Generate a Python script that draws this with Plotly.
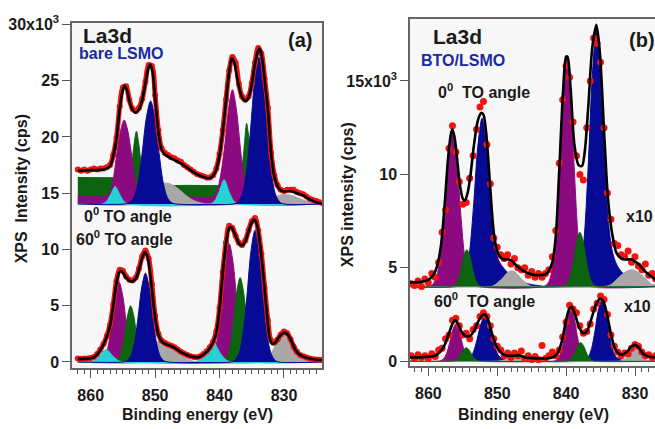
import numpy as np
import plotly.graph_objects as go

# ---------------- measured energies (eV) ----------------
E_A = np.round(np.arange(862.0, 823.99, -0.5), 2)   # panel (a) sampling
E_B = np.round(np.arange(862.5, 826.49, -0.5), 2)   # panel (b) sampling

# ---------------- measured intensities (x10^3 cps) ----------------
A0_DATA = [17.1, 17.0, 17.1, 17.0, 17.1, 17.2, 17.1, 17.2, 17.2, 17.3,
           17.5, 18.4, 19.9, 22.7, 24.4, 24.5, 23.3, 22.5, 22.3, 22.6,
           23.4, 24.9, 26.4, 26.3, 23.7, 20.6, 19.0, 18.6, 18.4, 18.2,
           18.1, 17.9, 17.8, 17.5, 17.3, 17.1, 16.9, 16.7, 16.6, 16.5,
           16.4, 16.4, 16.6, 17.2, 18.5, 20.6, 23.3, 25.9, 27.1, 26.6,
           24.7, 23.6, 23.3, 23.6, 24.8, 26.6, 27.9, 27.4, 25.2, 22.6,
           18.6, 16.6, 15.7, 15.3, 15.2, 15.3, 15.3, 15.3, 15.1, 15.0,
           14.9, 14.7, 14.5, 14.4, 14.3, 14.2, 14.1]
A60_DATA = [0.30, 0.28, 0.30, 0.32, 0.35, 0.45, 0.70, 1.10, 1.60, 2.30,
            3.30, 5.10, 7.20, 8.20, 8.10, 7.60, 7.30, 7.25, 7.50, 8.30,
            9.40, 9.90, 9.20, 6.90, 4.10, 2.50, 1.90, 1.70, 1.55, 1.45,
            1.30, 1.10, 0.90, 0.75, 0.62, 0.50, 0.45, 0.42, 0.50, 0.70,
            0.95, 1.30, 1.80, 2.70, 4.80, 8.00, 10.60, 12.10, 11.90, 11.20,
            10.60, 10.40, 10.80, 11.70, 12.50, 12.80, 11.70, 9.60, 6.60, 3.70,
            1.90, 1.70, 2.00, 2.45, 2.70, 2.55, 2.05, 1.35, 0.90, 0.62,
            0.50, 0.40, 0.32, 0.25, 0.22, 0.20, 0.20]
B0_DATA = [4.15, 4.05, 4.3, 4.0, 4.4, 4.2, 4.7, 4.5, 5.3, 6.9,
           8.1, 11.4, 12.6, 11.2, 9.6, 8.4, 8.5, 9.8, 11.0, 12.4,
           13.6, 13.9, 11.6, 9.5, 6.6, 6.1, 5.7, 5.5, 5.7, 5.2,
           5.5, 5.0, 4.9, 5.0, 4.6, 4.8, 4.5, 4.7, 4.5, 4.7,
           4.9, 5.6, 7.0, 10.6, 14.0, 15.8, 15.2, 12.8, 11.0, 10.0,
           9.7, 12.5, 15.0, 17.3, 17.0, 16.0, 12.5, 9.0, 7.6, 6.3,
           6.2, 5.7, 5.6, 5.9, 5.3, 5.6, 5.1, 4.9, 5.2, 4.6,
           4.7, 4.4, 4.5]
B60_DATA = [0.3, 0.15, 0.35, 0.2, 0.3, 0.15, 0.4, 0.25, 0.6, 0.7,
            1.2, 1.4, 2.2, 2.3, 1.9, 1.4, 1.5, 1.2, 1.7, 1.9,
            2.4, 2.6, 2.4, 1.9, 1.2, 0.8, 0.6, 0.3, 0.45, 0.2,
            0.45, 0.3, 0.55, 0.15, 0.3, 0.1, 0.25, 0.1, 0.85, 0.15,
            0.3, 0.5, 0.3, 0.6, 1.3, 2.1, 3.0, 2.8, 2.6, 1.9,
            1.5, 1.6, 2.0, 2.8, 3.1, 3.5, 3.3, 2.5, 1.4, 0.8,
            0.5, 0.3, 0.45, 0.4, 0.7, 0.9, 0.8, 0.5, 0.3, 0.35,
            0.2, 0.3, 0.25]

# ---------------- fit envelopes (E, x10^3 cps) ----------------
A0_FIT = [(862, 17.0), (860, 17.05), (858, 17.1), (857, 17.4), (856.5, 18.3), (856, 19.8), (855.5, 22.5),
          (855, 24.2), (854.75, 24.55), (854.4, 24.2), (854, 23.2), (853.5, 22.4), (853, 22.15),
          (852.5, 22.45), (852, 23.3), (851.5, 24.8), (851, 26.2), (850.75, 26.45), (850.4, 25.8),
          (850, 23.5), (849.5, 20.5), (849, 18.9), (848.5, 18.45), (848, 18.25), (847, 17.95),
          (846, 17.65), (845, 17.25), (844, 16.85), (843, 16.55), (842, 16.35), (841.5, 16.35),
          (841, 16.55), (840.5, 17.1), (840, 18.4), (839.5, 20.5), (839, 23.2), (838.5, 25.8),
          (838.1, 27.0), (837.7, 26.6), (837.3, 25.3), (837, 24.5), (836.5, 23.5), (836, 23.2),
          (835.5, 23.5), (835, 24.7), (834.5, 26.5), (834, 27.7), (833.8, 27.85), (833.5, 27.4),
          (833, 25.1), (832.5, 22.4), (832, 18.5), (831.5, 16.5), (831, 15.6), (830.5, 15.25),
          (830, 15.15), (829, 15.2), (828, 15.0), (827, 14.8), (826, 14.45), (825, 14.2), (824, 14.05)]
A60_FIT = [(862, 0.28), (860.5, 0.3), (859.5, 0.42), (859, 0.65), (858.5, 1.05), (858, 1.55), (857.5, 2.25),
           (857, 3.2), (856.5, 5.0), (856, 7.0), (855.6, 7.95), (855.3, 8.1), (855, 7.95), (854.5, 7.5),
           (854, 7.2), (853.6, 7.15), (853, 7.4), (852.5, 8.2), (852, 9.25), (851.6, 9.75), (851.2, 9.4),
           (850.8, 8.0), (850.3, 5.4), (850, 4.0), (849.5, 2.45), (849, 1.85), (848.5, 1.62), (847.7, 1.45),
           (847, 1.25), (846, 0.88), (845, 0.6), (844, 0.43), (843.5, 0.4), (843, 0.48), (842, 0.9),
           (841.5, 1.25), (841, 1.75), (840.5, 2.6), (840, 4.7), (839.5, 7.9), (839, 10.5), (838.5, 11.9),
           (838.2, 12.0), (837.8, 11.6), (837.3, 10.9), (836.8, 10.4), (836.4, 10.4), (836, 10.7),
           (835.5, 11.6), (835, 12.4), (834.6, 12.65), (834.2, 12.2), (833.7, 10.4), (833.2, 7.7),
           (832.7, 4.6), (832.2, 2.1), (831.8, 1.6), (831.3, 1.75), (830.8, 2.2), (830.2, 2.55),
           (829.8, 2.6), (829.3, 2.35), (828.8, 1.8), (828.3, 1.15), (827.7, 0.7), (827, 0.48),
           (826, 0.3), (825, 0.2), (824, 0.18)]
B0_FIT = [(862.7, 4.22), (861, 4.25), (860, 4.35), (859.3, 4.6), (858.8, 5.0), (858.2, 6.1), (857.65, 8.3),
          (857.1, 11.0), (856.7, 12.2), (856.5, 12.4), (856.2, 12.0), (855.9, 11.1), (855.4, 9.4),
          (855.0, 8.7), (854.7, 8.6), (854.3, 9.0), (853.9, 9.9), (853.4, 11.5), (852.8, 12.9),
          (852.3, 13.3), (852.0, 13.2), (851.6, 12.2), (851.0, 9.2), (850.5, 6.9), (850.0, 5.9),
          (849.5, 5.55), (849, 5.45), (848.3, 5.45), (847.8, 5.35), (847, 5.05), (846, 4.8), (845, 4.65),
          (844, 4.6), (843, 4.65), (842.5, 4.85), (842, 5.3), (841.5, 6.7), (841.0, 10.2), (840.45, 14.4),
          (840.0, 16.3), (839.8, 16.3), (839.35, 14.6), (838.8, 11.6), (838.2, 10.5), (837.7, 10.45),
          (837.3, 11.2), (836.75, 13.8), (836.2, 16.8), (835.6, 18.0), (835.1, 16.5), (834.45, 12.0),
          (833.9, 8.6), (833.3, 6.8), (832.7, 5.8), (832.0, 5.5), (831.2, 5.45), (830.5, 5.45),
          (829.5, 5.2), (828.5, 4.8), (827.5, 4.5), (826.5, 4.3)]
B60_FIT = [(862.7, 0.2), (861, 0.22), (860, 0.25), (859, 0.3), (858.3, 0.5), (857.6, 0.9), (857, 1.5),
           (856.5, 2.0), (856.1, 2.2), (855.7, 2.0), (855.2, 1.6), (854.6, 1.35), (854.0, 1.35),
           (853.4, 1.6), (852.8, 2.1), (852.2, 2.45), (851.8, 2.5), (851.3, 2.2), (850.7, 1.4),
           (850.1, 0.8), (849.4, 0.45), (848.6, 0.3), (847.5, 0.3), (846.8, 0.32), (846, 0.2),
           (845, 0.17), (844, 0.15), (843, 0.15), (842, 0.2), (841.2, 0.45), (840.6, 1.1), (840.0, 2.2),
           (839.5, 2.85), (839.2, 2.9), (838.7, 2.5), (838.1, 1.8), (837.5, 1.5), (837.0, 1.6),
           (836.4, 2.2), (835.7, 3.0), (835.1, 3.35), (834.6, 3.2), (834.0, 2.4), (833.4, 1.3),
           (832.8, 0.6), (832.0, 0.35), (831.2, 0.5), (830.5, 0.8), (830.0, 0.88), (829.5, 0.75),
           (828.8, 0.4), (828, 0.25), (827, 0.2), (826, 0.2)]

# ---------------- fitted components (E, x10^3 cps) ----------------
A0_BASE = 14.05
A0_GREEN = [(862, 16.4), (855, 16.4), (854.2, 16.45), (853.7, 17.3), (853.3, 19.2), (852.9, 20.5), (852.5, 19.2),
            (852.1, 17.3), (851.6, 16.1), (851.0, 15.75), (845, 15.7), (838, 15.7), (837.0, 15.8), (836.5, 17.3),
            (836.1, 19.6), (835.8, 21.2), (835.4, 19.6), (835.0, 17.3), (834.5, 15.3), (834.0, 14.3),
            (833.3, 14.05), (824, 14.05)]
A0_PURPLE = [(862, 14.77), (857.5, 14.78), (856.9, 15.2), (856.4, 16.6), (855.9, 18.7), (855.3, 20.7), (854.8, 21.5),
             (854.3, 20.7), (853.7, 18.6), (853.2, 16.5), (852.7, 15.2), (852.1, 14.75), (846, 14.7), (841, 14.72),
             (840.4, 15.2), (839.8, 16.7), (839.2, 19.2), (838.6, 22.5), (838.0, 24.2), (837.4, 22.5),
             (836.8, 19.2), (836.2, 16.3), (835.6, 14.9), (835.0, 14.3), (834.4, 14.05), (824, 14.05)]
A0_GRAY = [(862, 14.05), (852, 14.1), (851, 14.6), (850, 15.3), (849, 15.8), (848.2, 15.9), (847.2, 15.7),
           (846, 15.2), (845, 14.7), (844, 14.35), (843, 14.15), (842, 14.05), (834, 14.05), (832.5, 14.3),
           (831.5, 14.65), (830.5, 14.85), (829.7, 14.88), (828.5, 14.75), (827.5, 14.5), (826.5, 14.3),
           (825.5, 14.15), (824, 14.1)]
A0_CYAN = [(862, 14.05), (858.2, 14.05), (857.5, 14.3), (856.9, 14.9), (856.2, 15.6), (855.5, 14.9), (854.9, 14.3),
           (854.2, 14.05), (841.5, 14.05), (840.8, 14.3), (840.1, 15.1), (839.3, 16.2), (838.5, 15.1),
           (837.8, 14.3), (837.1, 14.05), (824, 14.05)]
A0_BLUE = [(862, 14.05), (854.6, 14.05), (853.95, 14.17), (853.3, 14.62), (852.65, 15.97), (852.0, 18.63),
           (851.35, 21.74), (850.7, 23.2), (850.05, 21.74), (849.4, 18.63), (848.75, 15.97), (848.1, 14.62),
           (847.45, 14.17), (846.8, 14.05), (837.8, 14.05), (837.15, 14.22), (836.5, 14.87), (835.85, 16.79),
           (835.2, 20.58), (834.55, 25.01), (833.9, 27.1), (833.25, 25.01), (832.6, 20.58), (831.95, 16.79),
           (831.3, 14.87), (830.65, 14.22), (830.0, 14.05), (824, 14.05)]

A60_BASE = 0.0
A60_GREEN = [(862, 0), (856.5, 0), (856.05, 0.065), (855.6, 0.31), (855.15, 1.05), (854.7, 2.5), (854.25, 4.2),
             (853.8, 5.0), (853.35, 4.2), (852.9, 2.5), (852.45, 1.05), (852.0, 0.31), (851.55, 0.065), (851.0, 0),
             (839.8, 0), (839.3, 0.1), (838.8, 0.47), (838.3, 1.58), (837.8, 3.75), (837.3, 6.3), (836.8, 7.5),
             (836.3, 6.3), (835.8, 3.75), (835.3, 1.58), (834.8, 0.47), (834.3, 0.1), (833.8, 0), (824, 0)]
A60_PURPLE = [(862, 0), (858.9, 0), (858.35, 0.09), (857.8, 0.44), (857.25, 1.49), (856.7, 3.55), (856.15, 5.96),
              (855.6, 7.1), (855.05, 5.96), (854.5, 3.55), (853.95, 1.49), (853.4, 0.44), (852.85, 0.09),
              (852.3, 0), (842.1, 0), (841.5, 0.14), (840.9, 0.66), (840.3, 2.2), (839.7, 5.25), (839.1, 8.82),
              (838.5, 10.5), (837.9, 8.82), (837.3, 5.25), (836.7, 2.2), (836.1, 0.66), (835.5, 0.14),
              (834.9, 0), (824, 0)]
A60_GRAY = [(862, 0), (852, 0), (851, 0.4), (850, 1.5), (849.3, 1.9), (848.5, 1.8), (847.5, 1.4), (846.5, 0.9),
            (845.5, 0.45), (844.5, 0.15), (843.5, 0), (833.5, 0), (832.5, 0.3), (831.5, 1.3), (830.7, 2.2),
            (829.9, 2.5), (829, 2.2), (828, 1.3), (827, 0.5), (826, 0.15), (825, 0.03), (824, 0)]
A60_CYAN = [(862, 0), (860.2, 0), (859.4, 0.15), (858.6, 0.55), (857.6, 1.12), (856.6, 0.55), (855.8, 0.15),
            (855, 0), (844, 0), (843.3, 0.12), (842.3, 0.6), (841.0, 1.7), (839.8, 0.7), (838.9, 0.15),
            (838, 0), (824, 0)]
A60_BLUE = [(862, 0), (855, 0), (854.375, 0.10), (853.8, 0.49), (853.225, 1.66), (852.65, 3.95), (852.075, 6.64),
            (851.5, 7.9), (850.925, 6.64), (850.35, 3.95), (849.775, 1.66), (849.2, 0.49), (848.625, 0.10),
            (848.0, 0), (838.2, 0), (837.625, 0.15), (837.0, 0.73), (836.375, 2.46), (835.75, 5.85),
            (835.125, 9.83), (834.5, 11.7), (833.875, 9.83), (833.25, 5.85), (832.625, 2.46), (832.0, 0.73),
            (831.375, 0.15), (830.8, 0), (824, 0)]

B0_BASE = 4.0
B0_PURPLE = [(862.7, 4.0), (860, 4.0), (859.375, 4.11), (858.8, 4.52), (858.225, 5.74), (857.65, 8.15),
             (857.075, 10.97), (856.5, 12.3), (855.925, 10.97), (855.35, 8.15), (854.775, 5.74), (854.2, 4.52),
             (853.625, 4.11), (853.0, 4.0), (843.3, 4.0), (842.65, 4.16), (842.1, 4.77), (841.55, 6.58),
             (841.0, 10.15), (840.45, 14.33), (839.9, 16.3), (839.35, 14.33), (838.8, 10.15), (838.25, 6.58),
             (837.7, 4.77), (837.15, 4.16), (836.6, 4.0), (826, 4.0)]
B0_BLUE = [(862.7, 4.0), (855.8, 4.0), (855.2, 4.12), (854.6, 4.56), (854.0, 5.89), (853.4, 8.5), (852.8, 11.56),
           (852.2, 13.0), (851.6, 11.56), (851.0, 8.6), (850.4, 6.3), (849.8, 5.4), (849.0, 4.95), (848.0, 4.6),
           (847.0, 4.35), (846.0, 4.2), (845.0, 4.1), (844.0, 4.05), (843.0, 4.0), (839.0, 4.0), (838.475, 4.18),
           (837.9, 4.85), (837.325, 6.86), (836.75, 10.8), (836.175, 15.42), (835.6, 17.7), (835.025, 15.42),
           (834.45, 10.9), (833.9, 7.6), (833.3, 5.9), (832.7, 5.2), (832.0, 4.8), (831.0, 4.5), (830.0, 4.3),
           (829, 4.2), (828, 4.1), (826, 4.05)]
B0_GRAY = [(862.7, 4.0), (851, 4.0), (850.5, 4.05), (849.8, 4.25), (849.2, 4.45), (848.5, 4.75), (847.9, 4.85),
           (847.3, 4.75), (846.6, 4.45), (846.0, 4.25), (845.3, 4.05), (844.8, 4.0), (834.5, 4.0), (833.5, 4.1),
           (832.6, 4.4), (831.7, 4.7), (830.5, 4.9), (829.3, 4.7), (828.4, 4.4), (827.5, 4.1), (826.5, 4.0)]
B0_GREEN = [(862.7, 4.0), (856.6, 4.0), (856.0, 4.12), (855.6, 4.41), (855.2, 4.985), (854.8, 5.65), (854.4, 5.97),
            (854.0, 5.65), (853.6, 4.985), (853.2, 4.41), (852.8, 4.12), (852.2, 4.0), (840.8, 4.0), (840.25, 4.04),
            (839.8, 4.18), (839.35, 4.61), (838.9, 5.45), (838.45, 6.44), (838.0, 6.9), (837.55, 6.44),
            (837.1, 5.45), (836.65, 4.61), (836.2, 4.18), (835.75, 4.04), (835.2, 4.0), (826, 4.0)]

B60_BASE = 0.0
B60_PURPLE = [(862.7, 0), (858.8, 0), (858.25, 0.026), (857.8, 0.125), (857.35, 0.42), (856.9, 1.0), (856.45, 1.68),
              (856.0, 2.0), (855.55, 1.68), (855.1, 1.0), (854.65, 0.42), (854.2, 0.125), (853.75, 0.026),
              (853.2, 0), (842.1, 0), (841.55, 0.036), (841.1, 0.175), (840.65, 0.59), (840.2, 1.4),
              (839.75, 2.35), (839.3, 2.8), (838.85, 2.35), (838.4, 1.4), (837.95, 0.59), (837.5, 0.175),
              (837.05, 0.036), (836.5, 0), (826, 0)]
B60_BLUE = [(862.7, 0), (855.2, 0), (854.55, 0.03), (854.0, 0.15), (853.45, 0.5), (852.9, 1.2), (852.35, 2.02),
            (851.8, 2.4), (851.25, 2.02), (850.7, 1.2), (850.15, 0.55), (849.6, 0.22), (848.8, 0.1), (847.5, 0.05),
            (846, 0.0), (837.9, 0), (837.3, 0.043), (836.8, 0.21), (836.3, 0.69), (835.8, 1.65), (835.3, 2.77),
            (834.8, 3.3), (834.3, 2.77), (833.8, 1.65), (833.3, 0.69), (832.8, 0.25), (832.1, 0.08),
            (831.3, 0.02), (830.5, 0), (826, 0)]
B60_GRAY = [(862.7, 0), (850.5, 0), (849.6, 0.02), (848.9, 0.08), (848.3, 0.17), (847.6, 0.26), (847.0, 0.3),
            (846.4, 0.26), (845.7, 0.17), (845.1, 0.08), (844.4, 0.02), (843.5, 0), (832.8, 0), (832.25, 0.01),
            (831.8, 0.05), (831.35, 0.17), (830.9, 0.4), (830.45, 0.67), (830.0, 0.8), (829.55, 0.67),
            (829.1, 0.4), (828.65, 0.17), (828.2, 0.05), (827.75, 0.01), (827.2, 0), (826, 0)]
B60_GREEN = [(862.7, 0), (857, 0), (856.5, 0.01), (856.1, 0.046), (855.7, 0.153), (855.3, 0.365), (854.9, 0.61),
             (854.5, 0.73), (854.1, 0.61), (853.7, 0.365), (853.3, 0.153), (852.9, 0.046), (852.5, 0.01),
             (852.0, 0), (840.4, 0), (839.9, 0.013), (839.5, 0.0625), (839.1, 0.21), (838.7, 0.5), (838.3, 0.84),
             (837.9, 1.0), (837.5, 0.84), (837.1, 0.5), (836.7, 0.21), (836.3, 0.0625), (835.9, 0.013),
             (835.4, 0), (826, 0)]

# ---------------- tick labels ----------------
X_TICKS = [860, 850, 840, 830]
YA_TICKS = [0, 5, 10, 15, 20, 25, 30]
YA_TEXT = ["0", "5", "10", "15", "20", "25", "30x10<sup>3</sup>"]
YB_TICKS = [0, 5, 10, 15]
YB_TEXT = ["0", "5", "10", "15x10<sup>3</sup>"]

# ---------------- styling ----------------
W, H = 655, 429
PURPLE = "#8c0a80"
GREEN = "#0c640f"
BLUE = "#070a94"
CYAN = "#25d2d6"
GRAY = "#a8a8a8"
RED = "#f2140f"
NAVY = "#1a2a9e"
FONT = "Liberation Sans"

fig = go.Figure()


def add_component(pts, base, color, xa, ya):
    xs = [p[0] for p in pts]
    ys = [p[1] for p in pts]
    fig.add_trace(go.Scatter(x=[xs[0], xs[-1]], y=[base, base], mode="lines",
                             line=dict(width=0, color=color), xaxis=xa, yaxis=ya,
                             hoverinfo="skip", showlegend=False))
    fig.add_trace(go.Scatter(x=xs, y=ys, mode="lines",
                             line=dict(color=color, width=1, shape="spline", smoothing=0.9),
                             fill="tonexty", fillcolor=color, xaxis=xa, yaxis=ya,
                             showlegend=False))


def add_data(E, vals, size, xa, ya, band=0):
    if band:
        fig.add_trace(go.Scatter(x=list(E), y=vals, mode="lines",
                                 line=dict(color=RED, width=band, shape="spline"),
                                 xaxis=xa, yaxis=ya, hoverinfo="skip", showlegend=False))
    fig.add_trace(go.Scatter(x=list(E), y=vals, mode="markers",
                             marker=dict(color=RED, size=size, line=dict(width=0)),
                             xaxis=xa, yaxis=ya, showlegend=False))


def add_fit(pts, xa, ya):
    fig.add_trace(go.Scatter(x=[p[0] for p in pts], y=[p[1] for p in pts], mode="lines",
                             line=dict(color="black", width=2.6, shape="spline", smoothing=0.8),
                             xaxis=xa, yaxis=ya, showlegend=False))


# panel (a)
for comp, col in [(A0_GREEN, GREEN), (A0_PURPLE, PURPLE), (A0_GRAY, GRAY), (A0_CYAN, CYAN), (A0_BLUE, BLUE)]:
    add_component(comp, A0_BASE, col, "x", "y")
for comp, col in [(A60_PURPLE, PURPLE), (A60_GREEN, GREEN), (A60_GRAY, GRAY), (A60_CYAN, CYAN), (A60_BLUE, BLUE)]:
    add_component(comp, A60_BASE, col, "x", "y")
add_data(E_A, A0_DATA, 6, "x", "y", band=5)
add_data(E_A, A60_DATA, 6, "x", "y", band=5)
add_fit(A0_FIT, "x", "y")
add_fit(A60_FIT, "x", "y")

# panel (b)
for comp, col in [(B0_PURPLE, PURPLE), (B0_BLUE, BLUE), (B0_GRAY, GRAY), (B0_GREEN, GREEN)]:
    add_component(comp, B0_BASE, col, "x2", "y2")
for comp, col in [(B60_PURPLE, PURPLE), (B60_BLUE, BLUE), (B60_GRAY, GRAY), (B60_GREEN, GREEN)]:
    add_component(comp, B60_BASE, col, "x2", "y2")
add_data(E_B, B0_DATA, 7, "x2", "y2")
add_data(E_B, B60_DATA, 7, "x2", "y2")
add_fit(B0_FIT, "x2", "y2")
add_fit(B60_FIT, "x2", "y2")

tickfont = dict(family=FONT, size=16, color="#1a1a1a", weight="bold")
common_x = dict(tickmode="linear", tick0=0, dtick=10, ticks="outside", ticklen=8, tickwidth=1.3,
                tickcolor="#555", showline=True, linecolor="#666", linewidth=1.5, mirror=True,
                showgrid=False, zeroline=False, tickfont=tickfont, ticklabelstandoff=4,
                minor=dict(dtick=1, tick0=0, ticks="outside", ticklen=4, tickwidth=1, tickcolor="#555"))
common_y = dict(tickmode="array", ticks="outside", ticklen=8, tickwidth=1.3, tickcolor="#555",
                showline=True, linecolor="#666", linewidth=1.5, showgrid=False, zeroline=False,
                tickfont=tickfont)

fig.update_layout(
    width=W, height=H, margin=dict(l=0, r=0, t=0, b=0),
    paper_bgcolor="white", plot_bgcolor="#f7f7f7",
    xaxis=dict(domain=[72 / W, 322 / W], anchor="y", range=[862.9, 824.1], **common_x),
    yaxis=dict(domain=[1 - 370 / H, 1 - 14 / H], anchor="x", range=[-0.517, 30.17],
               tickvals=YA_TICKS, ticktext=YA_TEXT, mirror=True, **common_y),
    xaxis2=dict(domain=[410 / W, 1.0], anchor="y2", range=[862.66, 827.1], **common_x),
    yaxis2=dict(domain=[1 - 368 / H, 1 - 10 / H], anchor="x2", range=[-0.244, 18.33],
                tickvals=YB_TICKS, ticktext=YB_TEXT, mirror=False, **common_y),
)


def label(text, x, y, size=16, color="#1a1a1a", xanchor="left", angle=0):
    fig.add_annotation(text=text, x=x / W, y=1 - y / H, xref="paper", yref="paper",
                       xanchor=xanchor, yanchor="middle", showarrow=False, textangle=angle,
                       font=dict(family=FONT, size=size, color=color, weight="bold"))


label("La3d", 81, 27, size=21)
label("bare LSMO", 77, 46, size=16, color=NAVY)
label("(a)", 314, 32, size=20, xanchor="right")
label("0<sup>0</sup> TO angle", 82, 212)
label("60<sup>0</sup> TO angle", 74, 236)
label("XPS&nbsp; Intensity (cps)", 21, 186, angle=-90, xanchor="center")
label("Binding energy (eV)", 197, 418, xanchor="center")

label("La3d", 431, 28, size=21)
label("BTO/LSMO", 419, 53, size=16, color=NAVY)
label("(b)", 627, 32, size=20)
label("0<sup>0</sup>&nbsp; TO angle", 436, 85)
label("60<sup>0</sup>&nbsp; TO angle", 432, 300)
label("x10", 624, 214)
label("x10", 622, 307)
label("XPS intensity (cps)", 347, 192, angle=-90, xanchor="center")
label("Binding energy (eV)", 533, 418, xanchor="center")

fig.write_html("out.html")
